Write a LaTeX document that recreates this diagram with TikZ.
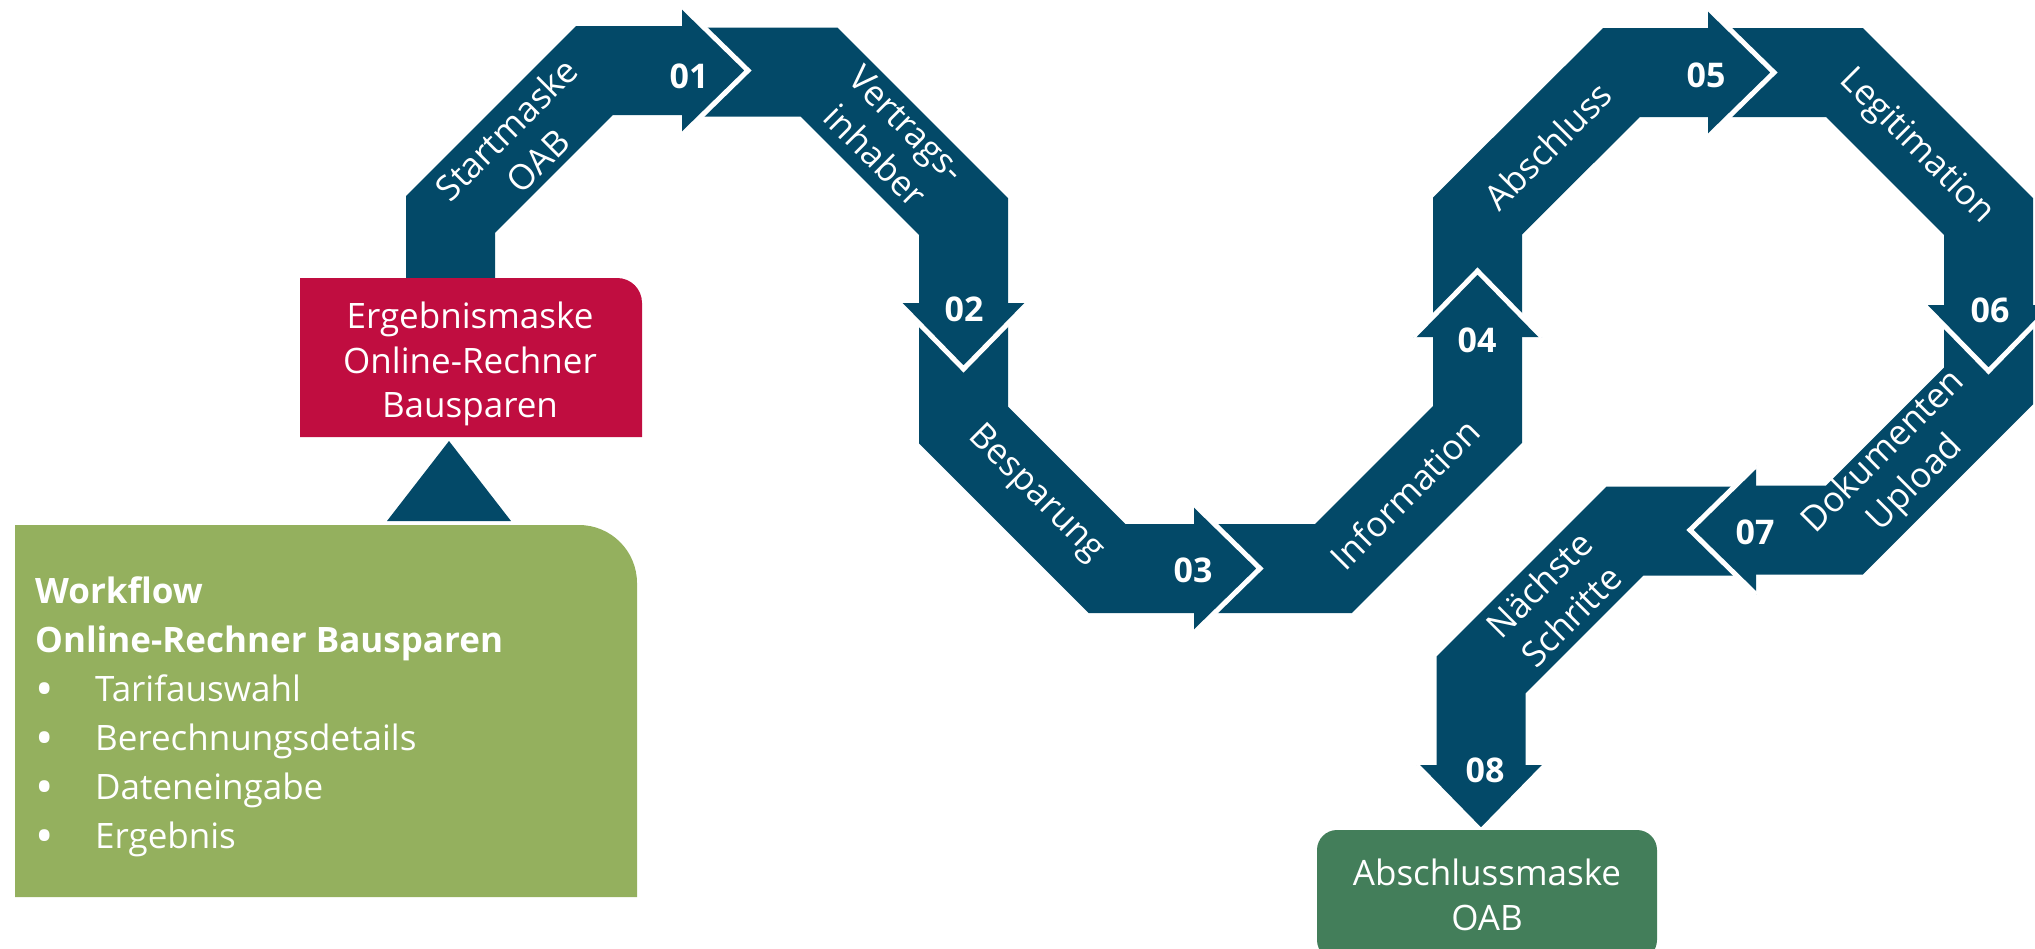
\documentclass[tikz,border=0pt]{standalone}
\usepackage{fontspec}
\setmainfont{Open Sans}

\definecolor{bandblue}{RGB}{3,73,104}
\definecolor{ergred}{RGB}{192,13,64}
\definecolor{wfgreen}{RGB}{148,176,94}
\definecolor{endgreen}{RGB}{67,126,90}

\tikzset{
  band/.style={draw=bandblue, line width=89pt, line join=miter},
  steplabel/.style={text=white, align=center, inner sep=0pt, font=\fontsize{35}{45}\selectfont},
  stepnum/.style={text=white, inner sep=0pt, font=\fontsize{34}{40}\selectfont\bfseries},
  boxtext/.style={text=white, align=center, inner sep=0pt, font=\fontsize{35}{44.5}\selectfont},
  pics/head/.style={code={
    \fill[bandblue] (0,-64.5) -- (66,0) -- (0,64.5) -- cycle;
    \draw[white, line width=5pt] (0,-64.5) -- (66,0) -- (0,64.5);
  }},
}
\newcommand{\wfitem}{\makebox[60pt][l]{\raisebox{-5pt}{\scalebox{1.4}{\textbullet}}}}

\begin{document}
\begin{tikzpicture}[x=1pt, y=-1pt]
  \useasboundingbox (0,0) rectangle (2035,948);
  \clip (0,0) rectangle (2035,948);

  %band points
  \coordinate (s1a) at (450.5,290);
  \coordinate (s1b) at (450.5,214.5);
  \coordinate (s1c) at (594.5,70.5);
  \coordinate (h1) at (682,70.5);
  \coordinate (s2a) at (694,72);
  \coordinate (s2b) at (819,72);
  \coordinate (s2c) at (963.5,216.5);
  \coordinate (h2) at (963.5,303);
  \coordinate (s3a) at (963.5,313);
  \coordinate (s3b) at (963.5,425);
  \coordinate (s3c) at (1107,568.5);
  \coordinate (h3) at (1194,568.5);
  \coordinate (s4a) at (1204,568.5);
  \coordinate (s4b) at (1333.5,568.5);
  \coordinate (s4c) at (1477.5,424.5);
  \coordinate (h4) at (1477.5,337);
  \coordinate (s5a) at (1477.5,327);
  \coordinate (s5b) at (1477.5,216);
  \coordinate (s5c) at (1621.5,72.5);
  \coordinate (h5) at (1708,72.5);
  \coordinate (s6a) at (1718,72.5);
  \coordinate (s6b) at (1844.5,72.5);
  \coordinate (s6c) at (1988.5,216.5);
  \coordinate (h6) at (1988.5,305);
  \coordinate (s7a) at (1988.5,315);
  \coordinate (s7b) at (1988.5,386);
  \coordinate (s7c) at (1844.5,530);
  \coordinate (h7) at (1756,530);
  \coordinate (s8a) at (1746,531);
  \coordinate (s8b) at (1625,531);
  \coordinate (s8c) at (1481,675);
  \coordinate (h8) at (1481,765);

  %tikz band
  \draw[band] (s1a) -- (s1b) -- (s1c) -- (h1);
  \draw[band] (s2a) -- (s2b) -- (s2c) -- (h2);
  \draw[band] (s3a) -- (s3b) -- (s3c) -- (h3);
  \draw[band] (s4a) -- (s4b) -- (s4c) -- (h4);
  \draw[band] (s5a) -- (s5b) -- (s5c) -- (h5);
  \draw[band] (s6a) -- (s6b) -- (s6c) -- (h6);
  \draw[band] (s7a) -- (s7b) -- (s7c) -- (h7);
  \draw[band] (s8a) -- (s8b) -- (s8c) -- (h8);
  \pic at (h1) {head};
  \pic[rotate=-90] at (h2) {head};
  \pic at (h3) {head};
  \pic[rotate=90] at (h4) {head};
  \pic at (h5) {head};
  \pic[rotate=-90] at (h6) {head};
  \pic[rotate=180] at (h7) {head};
  \pic[rotate=-90] at (h8) {head};

  %boxes
  \fill[ergred] (300,278) -- (617,278) .. controls (631,278) and (642,289) .. (642,303)
    -- (642,437) -- (300,437) -- cycle;
  \node[boxtext] (ergebnis) at (470,364) {Ergebnismaske\\Online-Rechner\\Bausparen};
  \fill[bandblue] (449,441) -- (511,521) -- (387,521) -- cycle;
  \fill[wfgreen] (15,525) -- (579,525) .. controls (611,525) and (637,551) .. (637,583)
    -- (637,897) -- (15,897) -- cycle;
  \node[text=white, align=left, inner sep=0pt, anchor=base west,
    font=\fontsize{35}{49}\selectfont] (workflow) at (35,848)
    {\textbf{Workflow}\\
     \textbf{Online-Rechner Bausparen}\\
     \wfitem Tarifauswahl\\
     \wfitem Berechnungsdetails\\
     \wfitem Dateneingabe\\
     \wfitem Ergebnis};
  \node[boxtext, fill=endgreen, rounded corners=20pt, minimum width=340pt,
    minimum height=130pt] (abschlussmaske) at (1487,895) {Abschlussmaske\\OAB};

  %labels
  \node[steplabel, rotate=45] (startmaske) at (522,145) {Startmaske\\OAB};
  \node[steplabel, rotate=-45] (vertrag) at (891,140) {Vertrags-\\inhaber};
  \node[steplabel, rotate=-45] (besparung) at (1036,494) {Besparung};
  \node[steplabel, rotate=45] (information) at (1405,494) {Information};
  \node[steplabel, rotate=45] (abschluss) at (1548,146) {Abschluss};
  \node[steplabel, rotate=-45] (legitimation) at (1916,147) {Legitimation};
  \node[steplabel, rotate=45] (upload) at (1900,468) {Dokumenten\\Upload};
  \node[steplabel, rotate=45] (schritte) at (1555,600) {Nächste\\Schritte};

  %numbers
  \node[stepnum] (n01) at (689,76) {01};
  \node[stepnum] (n02) at (964,309) {02};
  \node[stepnum] (n03) at (1193,570) {03};
  \node[stepnum] (n04) at (1477,340) {04};
  \node[stepnum] (n05) at (1706,75) {05};
  \node[stepnum] (n06) at (1990,310) {06};
  \node[stepnum] (n07) at (1755,532) {07};
  \node[stepnum] (n08) at (1485,770) {08};
\end{tikzpicture}
\end{document}
